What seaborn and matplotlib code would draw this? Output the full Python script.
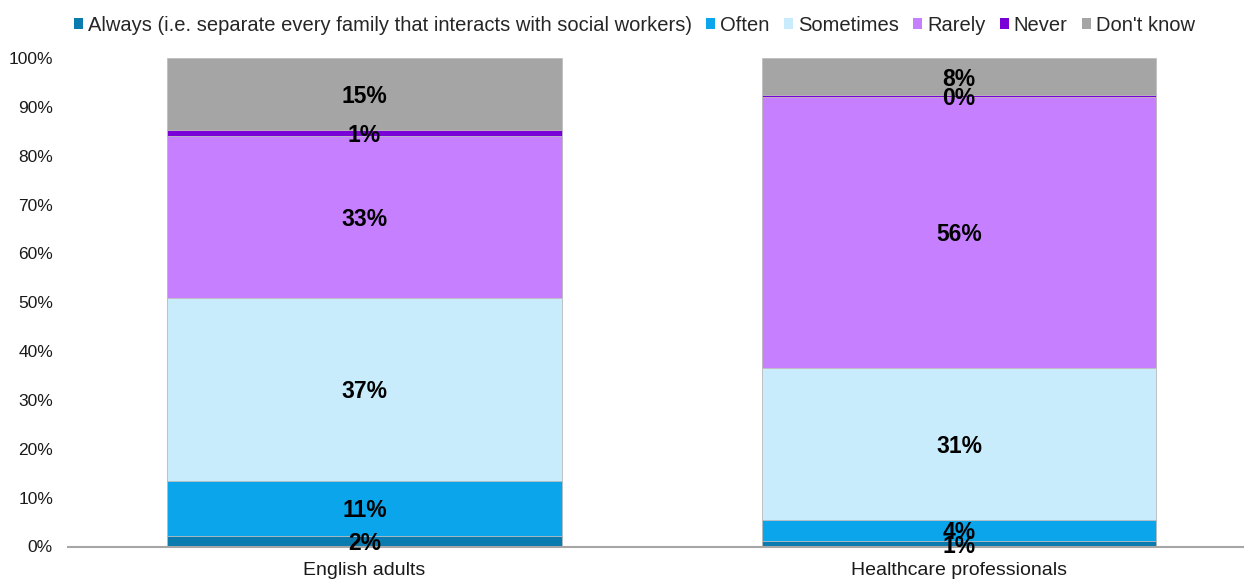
import matplotlib
matplotlib.use("Agg")
import matplotlib.pyplot as plt
import matplotlib.transforms as mtransforms
from matplotlib.patches import Patch
import seaborn as sns
import pandas as pd
import numpy as np

# Survey answers (% of respondents) per group
groups = ["English adults", "Healthcare professionals"]
responses = [
    "Always (i.e. separate every family that interacts with social workers)",
    "Often",
    "Sometimes",
    "Rarely",
    "Never",
    "Don't know",
]
always = [2.2, 1.1]
often = [11.3, 4.4]
sometimes = [37.4, 31.0]
rarely = [33.2, 55.6]
never = [1.2, 0.3]
dont_know = [14.7, 7.6]

colors = ["#0A7BAF", "#0AA5EA", "#C9ECFC", "#C67FFE", "#7A00D8", "#A5A5A5"]
y_ticks = [0, 10, 20, 30, 40, 50, 60, 70, 80, 90, 100]

series = [always, often, sometimes, rarely, never, dont_know]
rows = []
for resp, vals in zip(responses, series):
    for g, v in zip(groups, vals):
        rows.append({"group": g, "response": resp, "value": v})
df = pd.DataFrame(rows)
df["response"] = pd.Categorical(df["response"], categories=responses, ordered=True)
df = df.sort_values(["group", "response"])
df["top"] = df.groupby("group")["value"].cumsum()
df["bottom"] = df["top"] - df["value"]

sns.set_theme(style="white")
plt.rcParams["font.family"] = ["Liberation Sans", "DejaVu Sans"]

fig = plt.figure(figsize=(12.44, 5.79), dpi=100)
ax = fig.add_axes([68 / 1244, 1 - 546.5 / 579, 1 - 68 / 1244, (546.5 - 58) / 579])

# Stacked bars: draw cumulative totals from the top layer down
for resp, col in reversed(list(zip(responses, colors))):
    layer = df[df["response"] == resp]
    sns.barplot(data=layer, x="group", y="top", order=groups, color=col,
                width=0.664, edgecolor="#BFBFBF", linewidth=0.6,
                saturation=1, errorbar=None, ax=ax)

# Segment value labels (nudged slightly below the segment centre)
label_tf = ax.transData + mtransforms.ScaledTranslation(0, -2.5 / 100, fig.dpi_scale_trans)
pos = {g: i for i, g in enumerate(groups)}
for _, r in df.iterrows():
    ax.text(pos[r["group"]], r["bottom"] + r["value"] / 2, f"{r['value']:.0f}%",
            ha="center", va="center", fontsize=16.5, fontweight="bold", color="black",
            transform=label_tf)

ax.set_xlim(-0.4988, 1.4793)
ax.set_ylim(0, 100)
ax.set_yticks(y_ticks)
ax.set_yticklabels([f"{t}%" for t in y_ticks])
ax.set_xlabel("")
ax.set_ylabel("")
ax.tick_params(axis="y", labelsize=12.5, length=0, pad=10.8, colors="#1a1a1a")
ax.tick_params(axis="x", labelsize=14, length=0, pad=11.5, colors="#1a1a1a")
for s in ["top", "right", "left"]:
    ax.spines[s].set_visible(False)
ax.spines["bottom"].set_color("#A6A6A6")
ax.spines["bottom"].set_linewidth(1.5)

handles = [Patch(facecolor=c, edgecolor="none") for c in colors]
fig.legend(handles, responses, loc="center", bbox_to_anchor=(0.51, 1 - 25.5 / 579),
           ncol=6, frameon=False, fontsize=14.5, handlelength=0.45, handleheight=0.45,
           handletextpad=0.25, columnspacing=0.7, borderaxespad=0)

fig.savefig("out.png", dpi=100)
